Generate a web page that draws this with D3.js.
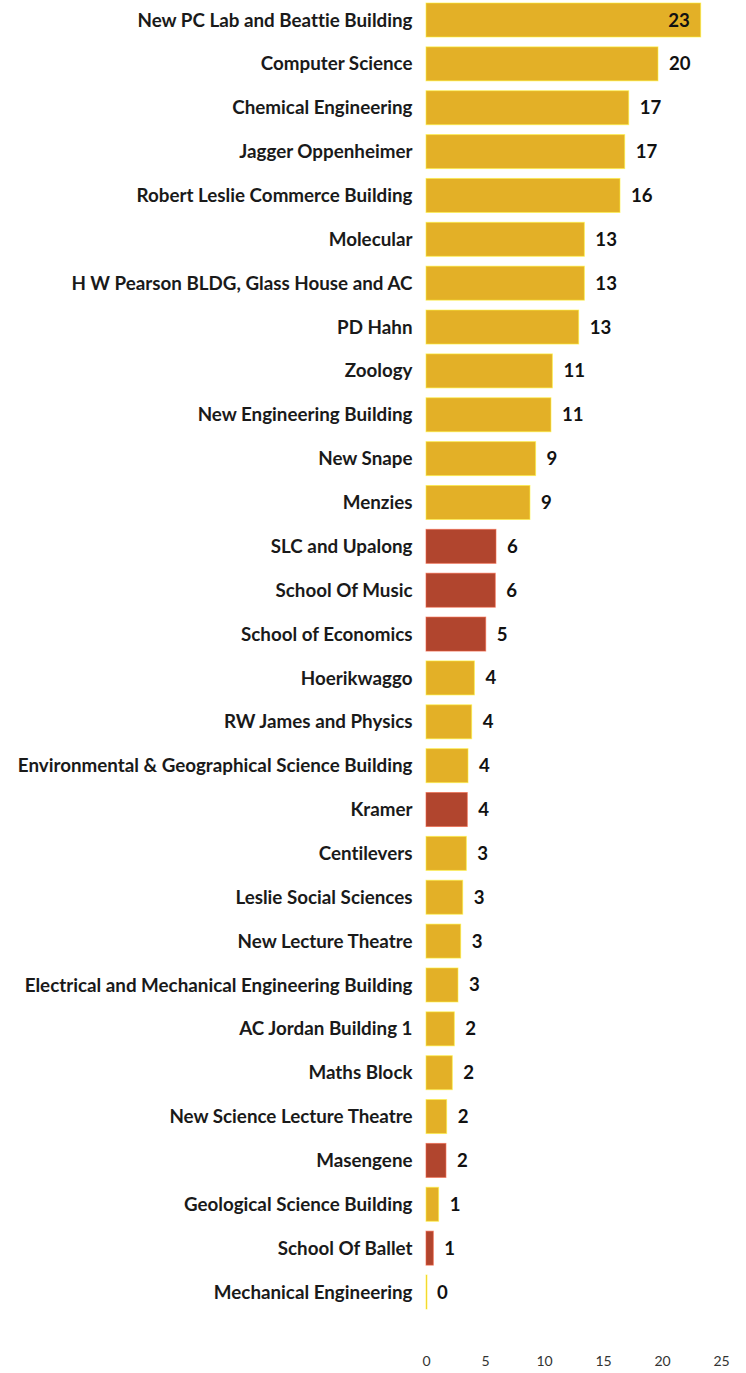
<!DOCTYPE html>
<html>
<head>
<meta charset="utf-8">
<script src="https://cdn.jsdelivr.net/npm/d3@7"></script>
<style>
  html, body { margin: 0; padding: 0; background: #fff; }
  svg { display: block; font-family: Lato, "Open Sans", sans-serif; font-variant-ligatures: none; }
</style>
</head>
<body>
<svg id="chart" width="746" height="1373"></svg>
<script>
const categories = [
  "New PC Lab and Beattie Building", "Computer Science", "Chemical Engineering",
  "Jagger Oppenheimer", "Robert Leslie Commerce Building", "Molecular",
  "H W Pearson BLDG, Glass House and AC", "PD Hahn", "Zoology",
  "New Engineering Building", "New Snape", "Menzies", "SLC and Upalong",
  "School Of Music", "School of Economics", "Hoerikwaggo", "RW James and Physics",
  "Environmental & Geographical Science Building", "Kramer", "Centilevers",
  "Leslie Social Sciences", "New Lecture Theatre",
  "Electrical and Mechanical Engineering Building", "AC Jordan Building 1",
  "Maths Block", "New Science Lecture Theatre", "Masengene",
  "Geological Science Building", "School Of Ballet", "Mechanical Engineering"
];
const values = [
  23.28, 19.66, 17.18, 16.84, 16.44, 13.42, 13.42, 12.94, 10.71, 10.59,
  9.29, 8.81, 5.93, 5.87, 5.06, 4.10, 3.87, 3.56, 3.50, 3.42,
  3.11, 2.94, 2.71, 2.40, 2.23, 1.75, 1.69, 1.07, 0.62, 0.0
];
const groups = [
  "a","a","a","a","a","a","a","a","a","a",
  "a","a","b","b","b","a","a","a","b","a",
  "a","a","a","a","a","a","b","a","b","a"
];
const xTicks = [0, 5, 10, 15, 20, 25];
const groupColors = { a: "#e3b027", b: "#b1452e" };

const svg = d3.select("#chart");
const x = d3.scaleLinear().domain([0, 25]).range([426, 721]);
const y = d3.scaleBand().domain(categories).range([3, 1309]).paddingInner(0.225).paddingOuter(0);

const data = categories.map((c, i) => ({ c, v: values[i], g: groups[i] }));

svg.append("g").selectAll("rect").data(data).join("rect")
  .attr("x", x(0))
  .attr("y", d => y(d.c))
  .attr("width", d => Math.max(1, x(d.v) - x(0)))
  .attr("height", y.bandwidth())
  .attr("fill", d => groupColors[d.g])
  .attr("stroke", d => d3.color(groupColors[d.g]).brighter(0.9))
  .attr("stroke-opacity", 0.6)
  .attr("stroke-width", 1);

svg.append("g").selectAll("text").data(data).join("text")
  .attr("x", 412.5)
  .attr("y", d => y(d.c) + y.bandwidth() / 2)
  .attr("dy", "0.35em")
  .attr("text-anchor", "end")
  .attr("font-size", 18.8)
  .attr("font-weight", 700)
  .attr("fill", "#1a1a1a")
  .text(d => d.c);

const inside = d => x(d.v) + 45 > 740;
svg.append("g").selectAll("text").data(data).join("text")
  .attr("x", d => inside(d) ? x(d.v) - 11 : x(d.v) + 11)
  .attr("text-anchor", d => inside(d) ? "end" : "start")
  .attr("y", d => y(d.c) + y.bandwidth() / 2)
  .attr("dy", "0.35em")
  .attr("font-size", 18.6)
  .attr("font-weight", 700)
  .attr("fill", "#111")
  .text(d => Math.round(d.v));

const axis = d3.axisBottom(x).tickValues(xTicks).tickSize(0).tickPadding(0);
const ag = svg.append("g").attr("transform", "translate(0,1356)").call(axis);
ag.select(".domain").remove();
ag.selectAll("text").attr("font-family", "Lato, sans-serif").attr("font-size", 14).attr("fill", "#333");
</script>
</body>
</html>
